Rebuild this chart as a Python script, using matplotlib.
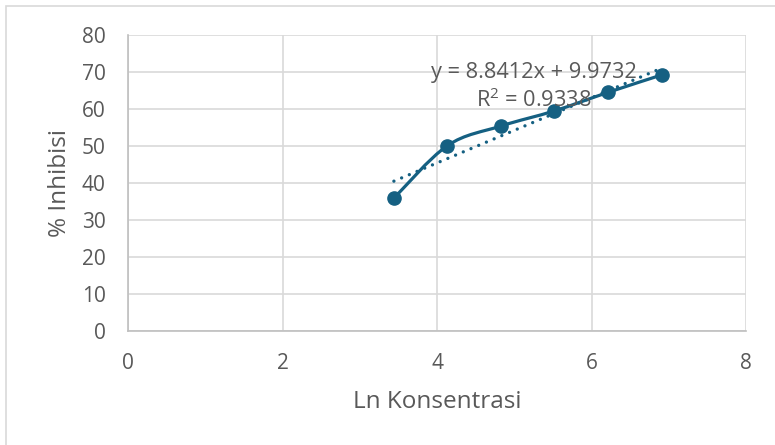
import numpy as np
import matplotlib.pyplot as plt
from matplotlib.path import Path
from matplotlib.patches import PathPatch, Rectangle

# Data
ln_konsentrasi = [3.442, 4.135, 4.828, 5.521, 6.215, 6.908]
inhibisi = [35.9, 50.1, 55.4, 59.5, 64.5, 69.2]
x_ticks = [0, 2, 4, 6, 8]
y_ticks = [0, 10, 20, 30, 40, 50, 60, 70, 80]
eq_text = "y = 8.8412x + 9.9732"
r2_text = "R$^2$ = 0.9338"

blue = "#156082"
text_col = "#595959"
grid_col = "#d9d9d9"

plt.rcParams['font.family'] = ['Open Sans', 'DejaVu Sans']
plt.rcParams['mathtext.fontset'] = 'custom'
plt.rcParams['mathtext.rm'] = 'Open Sans'

fig = plt.figure(figsize=(7.75, 4.45), dpi=100)
ax = fig.add_axes([128 / 775, 1 - 331 / 445, (746 - 128) / 775, (331 - 35) / 445])

# outer chart frame
fig.patches.append(Rectangle((6 / 775, -0.1), 1.2, 1 - 6 / 445 + 0.1,
                             transform=fig.transFigure, fill=False,
                             edgecolor=grid_col, linewidth=1.2))

# smooth line like Excel (bezier through points)
x = np.array(ln_konsentrasi)
y = np.array(inhibisi)
n = len(x)
verts = [(x[0], y[0])]
codes = [Path.MOVETO]
for i in range(n - 1):
    x0, y0 = (x[i - 1], y[i - 1]) if i > 0 else (x[i], y[i])
    x3, y3 = (x[i + 2], y[i + 2]) if i + 2 < n else (x[i + 1], y[i + 1])
    c1 = (x[i] + (x[i + 1] - x0) / 6, y[i] + (y[i + 1] - y0) / 6)
    c2 = (x[i + 1] - (x3 - x[i]) / 6, y[i + 1] - (y3 - y[i]) / 6)
    verts += [c1, c2, (x[i + 1], y[i + 1])]
    codes += [Path.CURVE4] * 3
ax.add_patch(PathPatch(Path(verts, codes), facecolor='none', edgecolor=blue,
                       linewidth=2.3, zorder=3))
ax.plot(x, y, 'o', color=blue, markersize=9.5, zorder=4)

# linear trendline
slope, icpt = np.polyfit(x, y, 1)
xt = np.array([x.min(), x.max()])
ax.plot(xt, slope * xt + icpt, linestyle=(0, (0.01, 2.5)), color=blue,
        linewidth=2.4, zorder=2, dash_capstyle='round')

ax.text(5.25, 69.8, eq_text, ha='center', va='center', fontsize=15.7, color=text_col, zorder=5)
ax.text(5.25, 62.4, r2_text, ha='center', va='center', fontsize=15.7, color=text_col, zorder=5)

ax.set_xlim(0, 8)
ax.set_ylim(0, 80)
ax.set_xticks(x_ticks)
ax.set_yticks(y_ticks)
ax.grid(True, color=grid_col, linewidth=1.2)
ax.set_axisbelow(True)
for s in ['top', 'right']:
    ax.spines[s].set_visible(False)
for s in ['left', 'bottom']:
    ax.spines[s].set_color('#bfbfbf')
    ax.spines[s].set_linewidth(1.2)
ax.tick_params(length=0, labelsize=15, colors=text_col)
ax.tick_params(axis='y', pad=16)
ax.tick_params(axis='x', pad=16)
ax.set_xlabel("Ln Konsentrasi", fontsize=17.5, color=text_col, labelpad=11)
ax.set_ylabel("% Inhibisi", fontsize=17.5, color=text_col, labelpad=7)

fig.savefig("out.png", dpi=100)
